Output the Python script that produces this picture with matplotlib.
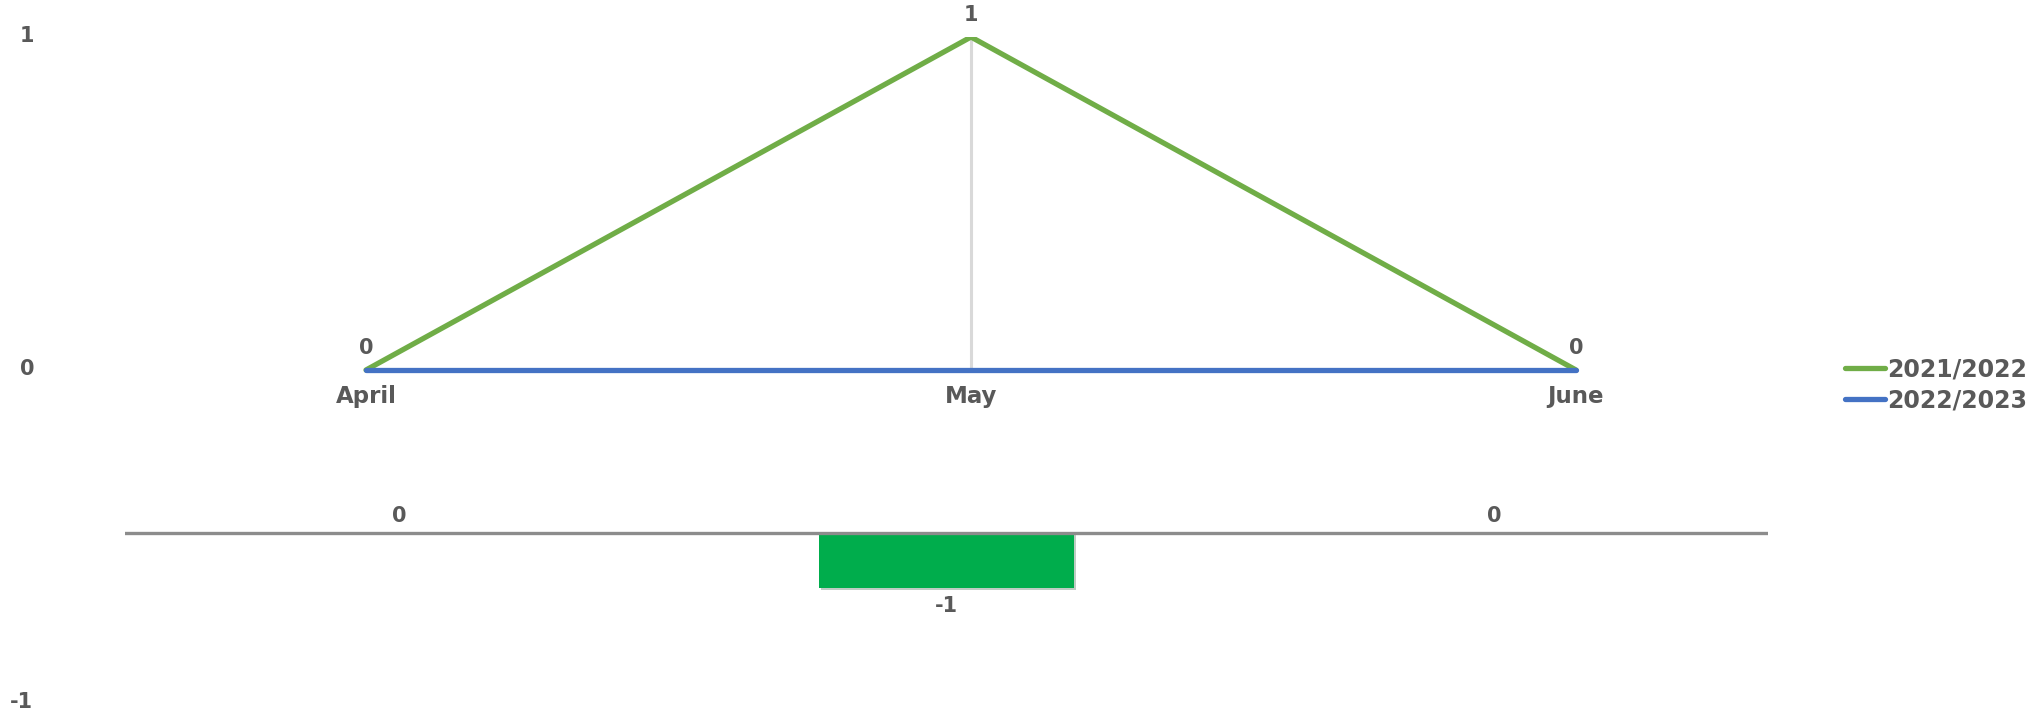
import matplotlib.pyplot as plt
import matplotlib.patheffects as pe
import numpy as np

# chart values
months = ['April', 'May', 'June']
series_2122 = [0, 1, 0]
series_2223 = [0, 0, 0]
bar_values = [0, -1, 0]
y_ticks = [1, 0, -1]

W, H = 2041, 715
TXT = '#595959'
plt.rcParams['font.family'] = ['DejaVu Sans']

fig = plt.figure(figsize=(W / 100, H / 100), dpi=100)


def px_axes(left, top, right, bottom):
    # axes from pixel box (origin top-left)
    return fig.add_axes([left / W, 1 - bottom / H, (right - left) / W, (bottom - top) / H])


# --- line chart ---
ax = px_axes(40, 37, 1800, 703)
x = np.arange(len(months))
ax.set_xlim(-(366 - 40) / 605, 2 + (1800 - 1576) / 605)
ax.set_ylim(-1, 1)
ax.spines['bottom'].set_position(('data', 0))
for s in ax.spines.values():
    s.set_visible(False)
ax.set_yticks([])
ax.set_xticks(x)
ax.set_xticklabels(months, fontsize=16.5, fontweight='bold', color=TXT)
ax.tick_params(axis='x', length=0, pad=11)

# high-low lines
lo = np.minimum(series_2122, series_2223)
hi = np.maximum(series_2122, series_2223)
ax.vlines(x, lo, hi, color='#d9d9d9', lw=2.2, zorder=1)

ax.plot(x, series_2122, color='#70ad47', lw=3.8, solid_capstyle='round',
        label='2021/2022', zorder=3)
ax.plot(x, series_2223, color='#4472c4', lw=3.8, solid_capstyle='round',
        label='2022/2023', zorder=4)

for xi, v in zip(x, series_2122):
    ax.annotate(str(v), (xi, v), xytext=(0, 22), textcoords='offset pixels',
                ha='center', va='center', fontsize=15, fontweight='bold', color=TXT)

# y labels at left edge
for v in y_ticks:
    ax.annotate(str(v), (0, v), xycoords=('figure pixels', 'data'),
                xytext=(21 if v < 0 else 27, 1), textcoords='offset pixels',
                ha='center', va='center', fontsize=15, fontweight='bold', color=TXT)

fig.legend(loc='center left', bbox_to_anchor=(1845 / W, 1 - 385 / H), frameon=False,
           handlelength=1.7, handletextpad=0.08, labelspacing=0.28,
           labelcolor=TXT, borderaxespad=0, borderpad=0,
           prop={'weight': 'bold', 'size': 17})

# --- bar chart ---
bx = px_axes(125, 505, 1768, 615)
xb = np.arange(len(bar_values))
bx.set_xlim(-0.5, len(bar_values) - 0.5)
bx.set_ylim(-1.5, 0.5)
bx.axis('off')
bars = bx.bar(xb, bar_values, width=0.466, color='#00ad4c', zorder=2)
for b in bars:
    b.set_path_effects([pe.SimplePatchShadow(offset=(1.5, -2), alpha=0.25), pe.Normal()])
bx.axhline(0, color='#8c8c8c', lw=2.4, zorder=3)
for xi, v in zip(xb, bar_values):
    off = -18 if v < 0 else 17
    bx.annotate(str(v), (xi, v), xytext=(0, off), textcoords='offset pixels',
                ha='center', va='center', fontsize=15, fontweight='bold', color=TXT)

fig.savefig('out.png', dpi=100)
